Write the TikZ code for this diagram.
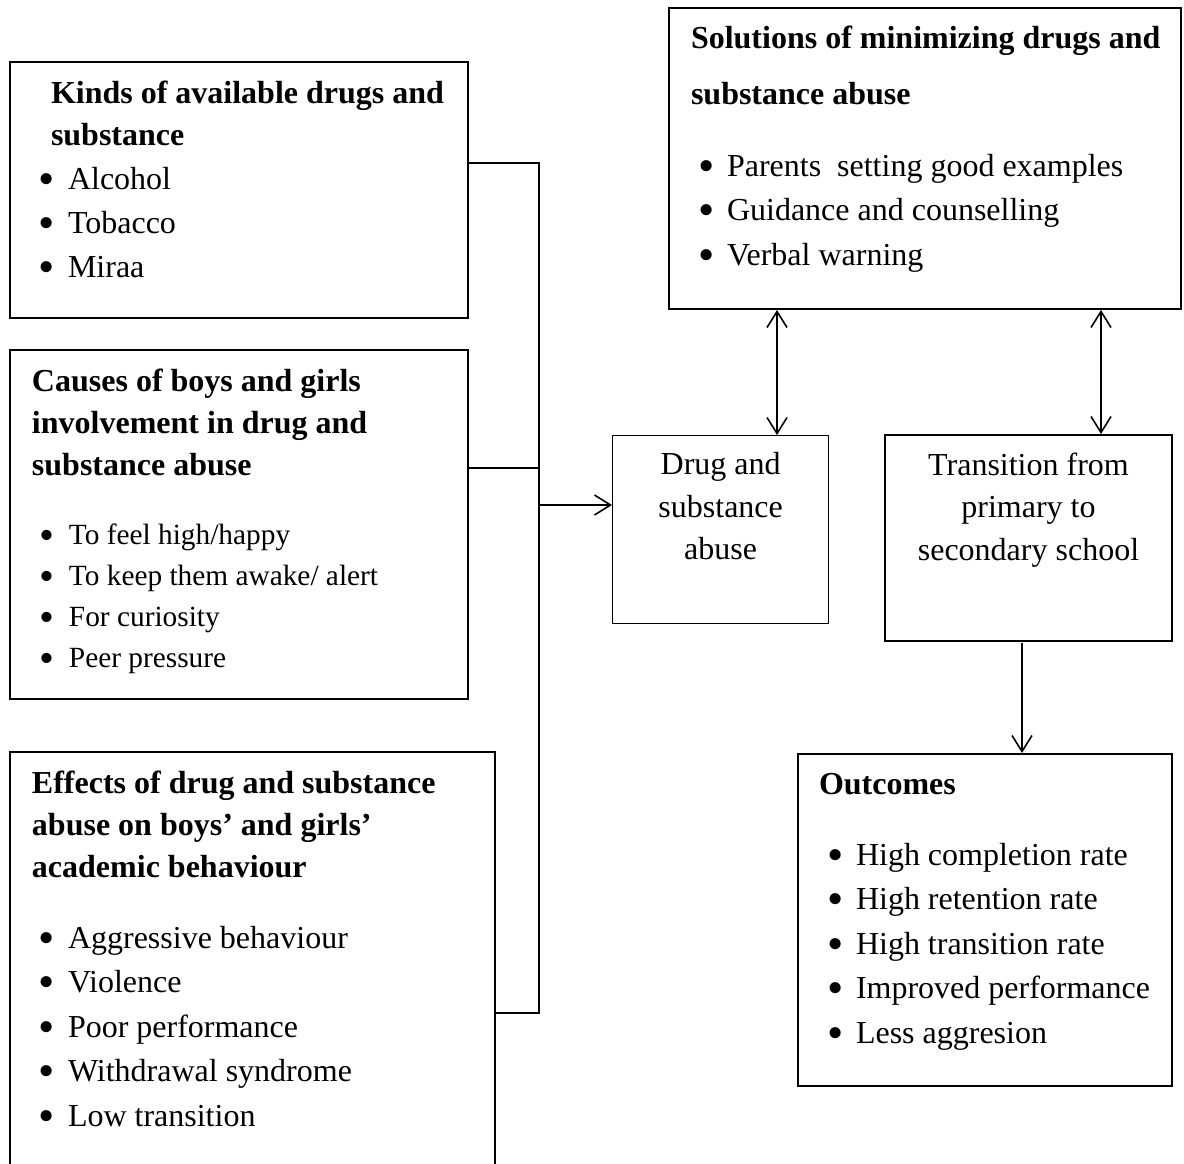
\documentclass[tikz,border=0pt]{standalone}
\usepackage{fontspec}
\setmainfont{Liberation Serif}
\usepackage{tikz}
\usetikzlibrary{arrows.meta}
\newlength{\px}
\setlength{\px}{0.375pt}
\newcommand{\itm}[1]{\makebox[28\px][l]{\hspace*{-1\px}\raisebox{-5\px}{\scalebox{1.45}{\textbullet}}}#1\par}

\begin{document}
\begin{tikzpicture}[x=0.375pt,y=-0.375pt,
    panel/.style={draw, line width=0.75pt, anchor=north west, inner sep=0pt, font=\fontsize{12pt}{14pt}\selectfont},
    link/.style={line width=0.6pt},
    arr/.style={link, -{Straight Barb[length=6pt,width=7.5pt]}},
    darr/.style={link, {Straight Barb[length=6pt,width=7.5pt]}-{Straight Barb[length=6pt,width=7.5pt]}}]
    \useasboundingbox (0,0) rectangle (1184,1163);
    \clip (0,0) rectangle (1184,1163);

    \node[panel] (kinds) at (9,61) {\parbox[t][256\px][t]{458\px}{%
        \fontsize{12pt}{42\px}\selectfont\leftskip=41\px
        \rule{0pt}{41\px}\textbf{Kinds of available drugs and}\\\textbf{substance}\par
        \fontsize{12pt}{44\px}\selectfont\leftskip=30\px
        \itm{Alcohol}\itm{Tobacco}\itm{Miraa}}};
    \node[panel] (causes) at (9,349) {\parbox[t][349\px][t]{458\px}{%
        \fontsize{12pt}{42\px}\selectfont\leftskip=22\px
        \rule{0pt}{41\px}\textbf{Causes of boys and girls}\\\textbf{involvement in drug and}\\\textbf{substance abuse}\par
        \vspace{28\px}
        \fontsize{11pt}{41\px}\selectfont\leftskip=31\px
        \itm{To feel high/happy}\itm{To keep them awake/ alert}\itm{For curiosity}\itm{Peer pressure}}};
    \node[panel] (effects) at (9,751) {\parbox[t][460\px][t]{485\px}{%
        \fontsize{12pt}{42\px}\selectfont\leftskip=22\px
        \rule{0pt}{41\px}\textbf{Effects of drug and substance}\\\textbf{abuse on boys’ and girls’}\\\textbf{academic behaviour}\par
        \vspace{26.5\px}
        \fontsize{12pt}{44.5\px}\selectfont\leftskip=30\px
        \itm{Aggressive behaviour}\itm{Violence}\itm{Poor performance}\itm{Withdrawal syndrome}\itm{Low transition}}};

    \node[panel] (solutions) at (668,7) {\parbox[t][301\px][t]{512\px}{%
        \fontsize{12pt}{56\px}\selectfont\leftskip=22\px
        \rule{0pt}{40\px}\textbf{Solutions of minimizing drugs and}\\\textbf{substance abuse}\par
        \vspace{27.5\px}
        \fontsize{12pt}{44.5\px}\selectfont\leftskip=30\px
        \itm{Parents\ \ setting good examples}\itm{Guidance and counselling}\itm{Verbal warning}}};
    \node[panel, line width=0.5pt] (drug) at (612,435) {\parbox[t][188\px][t]{216\px}{%
        \centering\fontsize{12pt}{42.5\px}\selectfont
        \rule{0pt}{39\px}Drug and\\substance\\abuse\par}};
    \node[panel] (transition) at (884,434) {\parbox[t][206\px][t]{287\px}{%
        \centering\fontsize{12pt}{42.5\px}\selectfont
        \rule{0pt}{40\px}Transition from\\primary to\\secondary school\par}};
    \node[panel] (outcomes) at (797,753) {\parbox[t][332\px][t]{374\px}{%
        \fontsize{12pt}{44\px}\selectfont\leftskip=21\px
        \rule{0pt}{40\px}\textbf{Outcomes}\par
        \vspace{26.5\px}
        \fontsize{12pt}{44.5\px}\selectfont\leftskip=30\px
        \itm{High completion rate}\itm{High retention rate}\itm{High transition rate}\itm{Improved performance}\itm{Less aggresion}}};

    \coordinate (jtop) at (539,163);
    \coordinate (jmid) at (539,468);
    \coordinate (jarr) at (539,505);
    \coordinate (jbot) at (539,1013);
    \coordinate (arrL) at (777,0);
    \coordinate (arrR) at (1101,0);
    \coordinate (arrD) at (1022,643);

    \draw[link] (kinds.east |- jtop) -- (jtop) -- (jbot) -- (effects.east |- jbot);
    \draw[link] (causes.east |- jmid) -- (jmid);
    \draw[arr] (jarr) -- (drug.west |- jarr);
    \draw[darr] (solutions.south -| arrL) -- (drug.north -| arrL);
    \draw[darr] (solutions.south -| arrR) -- (transition.north -| arrR);
    \draw[arr] (arrD) -- (outcomes.north -| arrD);
\end{tikzpicture}
\end{document}
